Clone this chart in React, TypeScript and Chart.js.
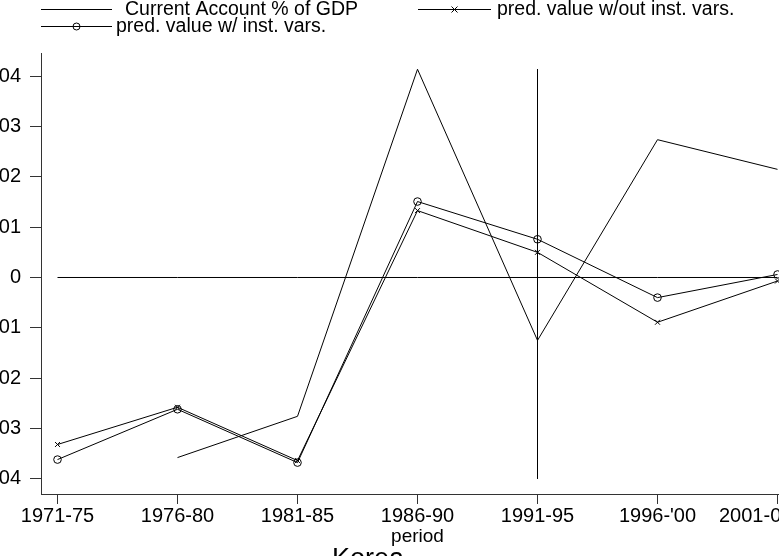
import React, { useEffect, useRef } from "react";
import { Chart, registerables } from "chart.js";

Chart.register(...registerables);

// ---- data ----
const categories = ["1971-75", "1976-80", "1981-85", "1986-90", "1991-95", "1996-'00", "2001-05"];
const currentAccount = [null, -0.0358, -0.0276, 0.0414, -0.0125, 0.0274, 0.0215];
const predNoInst = [-0.0332, -0.0258, -0.0364, 0.0133, 0.005, -0.0089, -0.0007];
const predInst = [-0.0362, -0.0262, -0.0368, 0.0151, 0.0076, -0.004, 0.0006];
const yTickValues = [-0.04, -0.03, -0.02, -0.01, 0, 0.01, 0.02, 0.03, 0.04];
const yTickLabels = ["-.04", "-.03", "-.02", "-.01", "0", ".01", ".02", ".03", ".04"];
const refLineCategory = "1991-95";
const refLineRange = [0.0414, -0.04];
const zeroLineValue = 0;
const seriesNames = ["Current Account % of GDP", "pred. value w/out inst. vars.", "pred. value w/ inst. vars."];
const xTitle = "period";
const chartTitle = "Korea";

// ---- layout ----
const OFFSET_X = 70;
const CANVAS_W = 880;
const CANVAS_H = 574;
const X_AXIS_H = 52.8;
const PAD_LEFT = 12;
const X_PAD = 0.1375;
const Y_MIN = -0.043241;
const Y_MAX = 0.044632;
const LAST_LABEL_LEFT = 719;
const FONT = '"Liberation Sans", Arial, sans-serif';

const legendLayout = [
  { x1: 41, x2: 112, y: 9, tx: 125, marker: "none" },
  { x1: 418, x2: 491, y: 9, tx: 497, marker: "cross" },
  { x1: 41, x2: 112, y: 26, tx: 116, marker: "circle" },
];

const legendPlugin = {
  id: "stataLegend",
  beforeDraw(chart: any) {
    const xs = chart.scales.x;
    if (!xs) return;
    const items = xs.getLabelItems(chart.chartArea);
    const last = items && items[items.length - 1];
    if (last && last.options) {
      last.options.textAlign = "left";
      last.options.translation = [LAST_LABEL_LEFT + OFFSET_X, last.options.translation[1]];
    }
  },
  afterDraw(chart: any) {
    const ctx = chart.ctx;
    ctx.save();
    ctx.strokeStyle = "#000";
    ctx.fillStyle = "#000";
    ctx.lineWidth = 1;
    ctx.font = "19.5px " + FONT;
    ctx.textAlign = "left";
    ctx.textBaseline = "middle";
    legendLayout.forEach((it, i) => {
      const x1 = it.x1 + OFFSET_X;
      const x2 = it.x2 + OFFSET_X;
      const y = it.y + 0.5;
      ctx.beginPath();
      ctx.moveTo(x1, y);
      ctx.lineTo(x2, y);
      ctx.stroke();
      const mx = (x1 + x2) / 2;
      if (it.marker === "circle") {
        ctx.beginPath();
        ctx.arc(mx, y, 3.5, 0, Math.PI * 2);
        ctx.stroke();
      } else if (it.marker === "cross") {
        ctx.beginPath();
        ctx.moveTo(mx - 3, y - 3);
        ctx.lineTo(mx + 3, y + 3);
        ctx.moveTo(mx + 3, y - 3);
        ctx.lineTo(mx - 3, y + 3);
        ctx.stroke();
      }
      ctx.fillText(seriesNames[i], it.tx + OFFSET_X, it.y + 1);
    });
    ctx.restore();
  },
};

const toXY = (arr: (number | null)[]) => categories.map((_, i) => ({ x: i, y: arr[i] }));

export default function App() {
  const ref = useRef<HTMLCanvasElement | null>(null);

  useEffect(() => {
    if (!ref.current) return;
    const refIdx = categories.indexOf(refLineCategory);
    const common = { borderColor: "#000", borderWidth: 1, tension: 0, fill: false };
    const chart = new Chart(ref.current, {
      type: "line",
      data: {
        datasets: [
          { ...common, label: seriesNames[0], data: toXY(currentAccount), pointRadius: 0 },
          {
            ...common,
            label: seriesNames[1],
            data: toXY(predNoInst),
            pointStyle: "crossRot",
            pointRadius: 3.5,
            pointBorderColor: "#000",
            pointBorderWidth: 1,
          },
          {
            ...common,
            label: seriesNames[2],
            data: toXY(predInst),
            pointStyle: "circle",
            pointRadius: 3.8,
            pointBorderColor: "#000",
            pointBackgroundColor: "rgba(0,0,0,0)",
            pointBorderWidth: 1,
          },
          { ...common, label: "zero", data: categories.map((_, i) => ({ x: i, y: zeroLineValue })), pointRadius: 0 },
          { ...common, label: "ref", data: refLineRange.map((v) => ({ x: refIdx, y: v })), pointRadius: 0 },
        ],
      } as any,
      options: {
        animation: false,
        responsive: false,
        maintainAspectRatio: false,
        devicePixelRatio: 1,
        layout: {
          padding: { left: PAD_LEFT, right: CANVAS_W - (794 + OFFSET_X), top: 53, bottom: 1.8 },
        },
        plugins: {
          legend: { display: false },
          tooltip: { enabled: false },
          title: {
            display: true,
            position: "bottom",
            text: chartTitle,
            color: "#000",
            font: { family: FONT, size: 27, weight: "normal", lineHeight: 0.904 },
            padding: 0,
          },
        },
        scales: {
          x: {
            type: "linear",
            min: -X_PAD,
            max: categories.length - 1 + X_PAD,
            afterBuildTicks: (s: any) => {
              s.ticks = categories.map((_, i) => ({ value: i }));
            },
            afterFit: (s: any) => {
              s.height = X_AXIS_H;
              s.paddingLeft = 0;
              s.paddingRight = 0;
            },
            ticks: {
              autoSkip: false,
              maxRotation: 0,
              padding: 0,
              color: "#000",
              font: { family: FONT, size: 20 },
              callback: (v: any) => categories[Math.round(v)] ?? "",
            },
            grid: { display: true, drawOnChartArea: false, drawTicks: true, tickLength: 9, color: "#333" },
            border: { display: true, color: "#333", width: 1 },
            title: { display: true, text: xTitle, color: "#000", font: { family: FONT, size: 19 }, padding: 0 },
          },
          y: {
            type: "linear",
            min: Y_MIN,
            max: Y_MAX,
            afterBuildTicks: (s: any) => {
              s.ticks = yTickValues.map((v) => ({ value: v }));
            },
            afterFit: (s: any) => {
              s.width = 41 + OFFSET_X - PAD_LEFT;
              s.paddingTop = 0;
              s.paddingBottom = 0;
            },
            ticks: {
              padding: 9,
              color: "#000",
              font: { family: FONT, size: 20 },
              callback: (v: any) => {
                const i = yTickValues.findIndex((t) => Math.abs(t - v) < 1e-9);
                return i >= 0 ? yTickLabels[i] : "";
              },
            },
            grid: { display: true, drawOnChartArea: false, drawTicks: true, tickLength: 11, color: "#333" },
            border: { display: true, color: "#333", width: 1 },
          },
        },
      } as any,
      plugins: [legendPlugin],
    });
    return () => chart.destroy();
  }, []);

  return (
    <div style={{ position: "fixed", left: 0, top: 0, width: 779, height: 556, overflow: "hidden", background: "#fff" }}>
      <canvas
        ref={ref}
        width={CANVAS_W}
        height={CANVAS_H}
        style={{ position: "absolute", left: -OFFSET_X, top: 0, width: CANVAS_W, height: CANVAS_H }}
      />
    </div>
  );
}
